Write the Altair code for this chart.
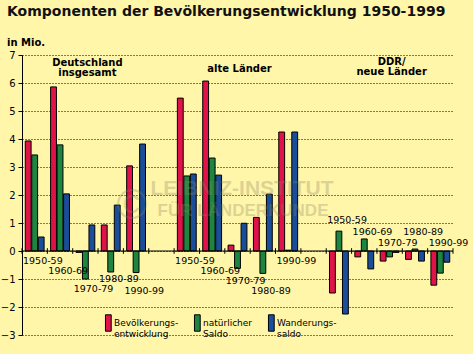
import altair as alt
import pandas as pd

# ---------------- data ----------------
group_keys = ["D", "W", "E"]
decades = ["1950-59", "1960-69", "1970-79", "1980-89", "1990-99"]
series = ["Bevölkerungsentwicklung", "natürlicher Saldo", "Wanderungssaldo"]
colors = ["#E0124A", "#1E8540", "#1A4E9A"]

# Deutschland insgesamt (Mio.)
de_total = [3.93, 5.86, -0.05, 0.93, 3.04]
de_natural = [3.43, 3.79, -1.00, -0.75, -0.77]
de_migration = [0.50, 2.04, 0.93, 1.64, 3.82]
# alte Länder
west_total = [5.46, 6.07, 0.21, 1.20, 4.25]
west_natural = [2.68, 3.32, -0.62, -0.80, 0.03]
west_migration = [2.75, 2.71, 0.99, 2.03, 4.25]
# DDR / neue Länder
east_total = [-1.50, -0.21, -0.36, -0.30, -1.22]
east_natural = [0.71, 0.43, -0.21, 0.07, -0.79]
east_migration = [-2.25, -0.64, -0.05, -0.36, -0.40]

# decade label heights (in Mio.)
de_label_y = [-0.36, -0.71, -1.36, -1.00, -1.43]
west_label_y = [-0.36, -0.71, -1.07, -1.43, -0.36]
east_label_y = [1.11, 0.68, 0.29, 0.68, 0.29]

group_titles = ["Deutschland\ninsgesamt", "alte Länder", "DDR/\nneue Länder"]
group_title_y = [6.71, 6.50, 6.75]

y_ticks = list(range(-3, 8))

# ---------------- tables ----------------
cat_domain = []
for i, g in enumerate(group_keys):
    cat_domain += [f"{g}|{d}" for d in decades]
    if i < len(group_keys) - 1:
        cat_domain.append(f"gap{i}")

values = {
    "D": [de_total, de_natural, de_migration],
    "W": [west_total, west_natural, west_migration],
    "E": [east_total, east_natural, east_migration],
}
label_y = {"D": de_label_y, "W": west_label_y, "E": east_label_y}

rows = []
for g in group_keys:
    for si, s in enumerate(series):
        for di, d in enumerate(decades):
            rows.append({"cat": f"{g}|{d}", "series": s, "value": values[g][si][di]})
bar_df = pd.DataFrame(rows)

lab_df = pd.DataFrame([
    {"cat": f"{g}|{d}", "text": d, "y": label_y[g][di]}
    for g in group_keys for di, d in enumerate(decades)
])

title_df = pd.DataFrame([
    {"cat": f"{g}|1970-79", "text": t, "y": ty}
    for g, t, ty in zip(group_keys, group_titles, group_title_y)
])

tick_df = pd.DataFrame({"cat": cat_domain, "lo": -0.1, "hi": 0.1})
end_tick_df = pd.DataFrame({"cat": [cat_domain[-1]], "lo": [-0.1], "hi": [0.1]})
zero_df = pd.DataFrame({"v": [0]})

FONT = "DejaVu Sans"
xscale = alt.Scale(domain=cat_domain, paddingInner=0, paddingOuter=0)
yscale = alt.Scale(domain=[-3, 7], nice=False, zero=False)
yaxis = alt.Axis(
    values=y_ticks, tickCount=11, title=None, grid=True, gridColor="black",
    gridDash=[1, 2], gridOpacity=1, gridWidth=1, domainColor="black",
    tickColor="black", tickSize=4, labelFont=FONT, labelFontSize=10,
    labelColor="black", labelPadding=3, labelOverlap=False,
)

legend_labels = (
    "datum.label == 'Bevölkerungsentwicklung' ? ['Bevölkerungs-', 'entwicklung'] : "
    "datum.label == 'natürlicher Saldo' ? ['natürlicher', 'Saldo'] : ['Wanderungs-', 'saldo']"
)

bars = alt.Chart(bar_df).mark_bar(stroke="black", strokeWidth=1).encode(
    x=alt.X("cat:N", scale=xscale, axis=None, sort=cat_domain),
    xOffset=alt.XOffset("series:N", scale=alt.Scale(domain=series, paddingInner=0.1, paddingOuter=0.5)),
    y=alt.Y("value:Q", scale=yscale, axis=yaxis),
    color=alt.Color(
        "series:N",
        scale=alt.Scale(domain=series, range=colors),
        legend=alt.Legend(
            orient="none", legendX=72, legendY=259, direction="horizontal",
            title=None, symbolType="M0.3,-1L1,-1L1,1L0.3,1Z", symbolSize=270,
            symbolStrokeColor="black", symbolStrokeWidth=1, symbolOpacity=1,
            labelFont=FONT, labelFontSize=9, labelColor="black", labelOffset=2,
            labelLimit=200, columnPadding=4, labelExpr=legend_labels,
        ),
    ),
)

zero = alt.Chart(zero_df).mark_rule(color="black", strokeWidth=1).encode(
    y=alt.Y("v:Q", scale=yscale, axis=yaxis)
)

ticks = alt.Chart(tick_df).mark_rule(color="black", strokeWidth=1).encode(
    x=alt.X("cat:N", scale=xscale, bandPosition=0, axis=None),
    y=alt.Y("lo:Q", scale=yscale, axis=yaxis), y2="hi:Q",
)
end_tick = alt.Chart(end_tick_df).mark_rule(color="black", strokeWidth=1).encode(
    x=alt.X("cat:N", scale=xscale, bandPosition=1, axis=None),
    y=alt.Y("lo:Q", scale=yscale, axis=yaxis), y2="hi:Q",
)

dec_labels = alt.Chart(lab_df).mark_text(
    align="left", baseline="middle", font=FONT, fontSize=9.5, color="black", dx=1
).encode(
    x=alt.X("cat:N", scale=xscale, bandPosition=0, axis=None),
    y=alt.Y("y:Q", scale=yscale, axis=yaxis), text="text:N",
)

grp_titles = alt.Chart(title_df).mark_text(
    align="center", baseline="middle", font=FONT, fontSize=10, fontWeight="bold",
    color="black", lineBreak="\n", lineHeight=10, dx=2,
).encode(
    x=alt.X("cat:N", scale=xscale, bandPosition=0.5, axis=None),
    y=alt.Y("y:Q", scale=yscale, axis=yaxis), text="text:N",
)

wm_color = "#8a8560"
wm1 = alt.Chart(zero_df).mark_text(
    text="LEIBNIZ-INSTITUT", font="Liberation Sans", fontWeight="bold", fontSize=21,
    color=wm_color, opacity=0.3, align="center", baseline="middle",
).encode(x=alt.value(220), y=alt.value(134))
wm2 = alt.Chart(zero_df).mark_text(
    text="FÜR LÄNDERKUNDE", font="Liberation Sans", fontWeight="bold", fontSize=17,
    color=wm_color, opacity=0.3, align="center", baseline="middle",
).encode(x=alt.value(221), y=alt.value(156))
wm3 = alt.Chart(zero_df).mark_text(
    text="©", font="Liberation Sans", fontSize=42,
    color=wm_color, opacity=0.3, align="center", baseline="middle",
).encode(x=alt.value(110), y=alt.value(151))

chart = alt.layer(
    bars, zero, ticks, end_tick, dec_labels, grp_titles, wm1, wm2, wm3
).properties(
    width=431,
    height=280,
    autosize="none",
    padding={"left": 22, "top": 55, "right": 20, "bottom": 19},
    background="#FFF6AA",
    title=alt.TitleParams(
        text="Komponenten der Bevölkerungsentwicklung 1950-1999",
        subtitle="in Mio.",
        anchor="start", frame="group", dx=-15, offset=2,
        font=FONT, fontSize=14, fontWeight="bold", color="#111111",
        subtitleFont=FONT, subtitleFontSize=10, subtitleFontWeight="bold",
        subtitleColor="black", subtitlePadding=19,
    ),
).configure_view(stroke=None)

chart.save("out.html", embed_options={"renderer": "svg", "actions": False})
